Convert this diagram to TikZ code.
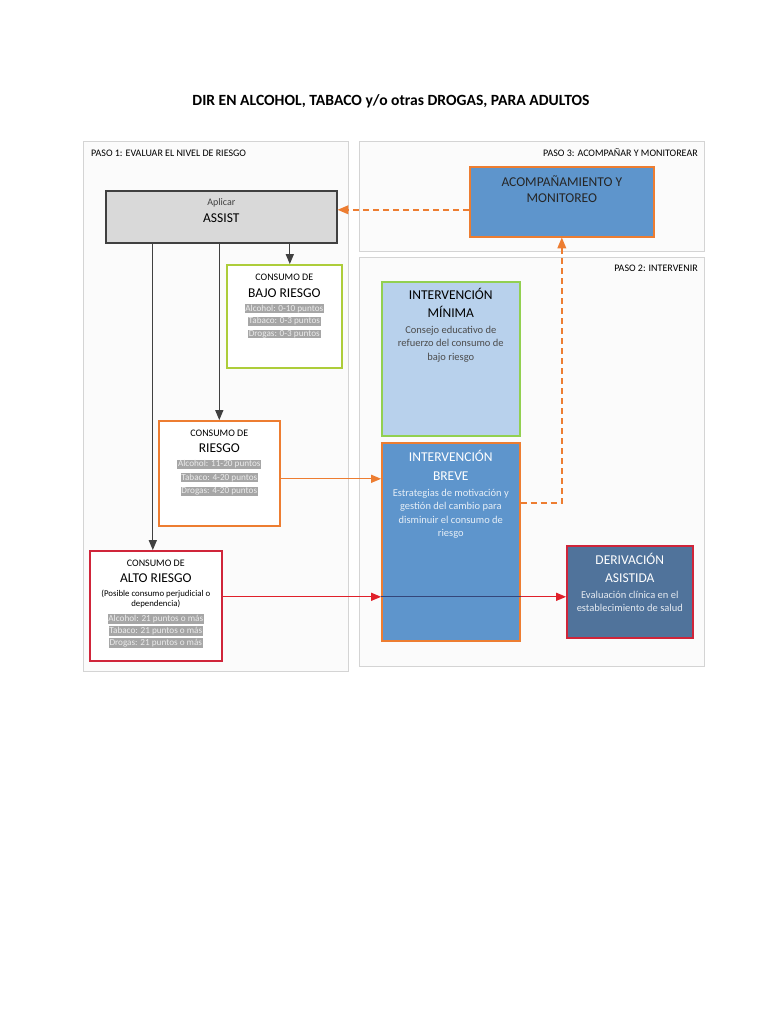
\documentclass[tikz,border=0pt]{standalone}
\usepackage{fontspec}
\setmainfont{Carlito}
\usetikzlibrary{arrows}
\usetikzlibrary{positioning}

\definecolor{panelline}{HTML}{D4D4D4}
\definecolor{panelfill}{HTML}{FBFBFB}
\definecolor{assistfill}{HTML}{D9D9D9}
\definecolor{oscuro}{HTML}{404040}
\definecolor{verde}{HTML}{ADCD3A}
\definecolor{verdeclaro}{HTML}{92D050}
\definecolor{naranja}{HTML}{ED7D31}
\definecolor{rojo}{HTML}{D0253A}
\definecolor{rojoflecha}{HTML}{E0202A}
\definecolor{azulclaro}{HTML}{B8D1EC}
\definecolor{azul}{HTML}{5E95CC}
\definecolor{azuloscuro}{HTML}{50739B}
\definecolor{azulnoche}{HTML}{34467A}
\definecolor{hlfondo}{HTML}{A6A6A6}
\definecolor{hltexto}{HTML}{ECECEC}

\newcommand{\grande}{\fontsize{13.5}{16}\selectfont}
\newcommand{\medio}{\fontsize{10}{14}\selectfont}
\newcommand{\cuerpo}[2]{\fontsize{#1}{#2}\selectfont\lineskiplimit=-20pt\relax}
\newcommand{\puntos}[1]{{\setlength{\fboxsep}{0.7pt}\colorbox{hlfondo}{\textcolor{hltexto}{#1}}}}

\begin{document}
\begin{tikzpicture}[x=1pt,y=-1pt,
  panel/.style={draw=panelline, fill=panelfill, line width=0.9pt, anchor=north west, inner sep=0pt},
  paso/.style={font=\fontsize{10}{11}\selectfont, inner sep=0pt},
  caja/.style={draw, line width=1.6pt, anchor=north west, inner sep=0pt},
  txt/.style={align=center, inner sep=0pt},
  flecha/.style={draw=oscuro, line width=1.3pt, -triangle 45},
  naranjaflecha/.style={draw=naranja, line width=1.3pt, -triangle 45},
  rojaflecha/.style={draw=rojoflecha, line width=1.3pt, -triangle 45},
  guion/.style={draw=naranja, line width=1.5pt, dash pattern=on 6pt off 4pt, -triangle 45}]

\useasboundingbox[fill=white] (0,0) rectangle (782,1011);

\node[font=\fontsize{15.6}{18}\selectfont\bfseries] (titulo) at (391,101)
  {DIR EN ALCOHOL, TABACO y/o otras DROGAS, PARA ADULTOS};

% pasos
\node[panel, minimum width=265pt, minimum height=530pt] (paso1) at (83,141) {};
\node[panel, minimum width=345pt, minimum height=110pt] (paso3) at (359,141) {};
\node[panel, minimum width=345pt, minimum height=409pt] (paso2) at (359,257) {};
\node[paso, anchor=north west] (paso1txt) at ([xshift=8pt,yshift=-8.5pt]paso1.north west)
  {PASO 1: EVALUAR EL NIVEL DE RIESGO};
\node[paso, anchor=north east] (paso3txt) at ([xshift=-7pt,yshift=-7.5pt]paso3.north east)
  {PASO 3: ACOMPAÑAR Y MONITOREAR};
\node[paso, anchor=north east] (paso2txt) at ([xshift=-7pt,yshift=-7.5pt]paso2.north east)
  {PASO 2: INTERVENIR};

% paso 1
\node[caja, draw=oscuro, fill=assistfill, minimum width=231pt, minimum height=52pt] (ASSIST) at (105,190) {};
\node[txt, below=8pt of ASSIST.north, font=\cuerpo{10}{14}] (ASSISTtxt)
  {\textcolor{oscuro}{Aplicar}\\[3.2pt]{\grande ASSIST}};

\node[caja, draw=verde, fill=white, minimum width=115pt, minimum height=103pt] (bajo) at (226,264) {};
\node[txt, below=10pt of bajo.north, font=\cuerpo{9.2}{12.5}] (bajotxt)
  {{\medio CONSUMO DE}\\[4.2pt]{\grande BAJO RIESGO}\\[1.3pt]\puntos{Alcohol: 0-10 puntos}\\
   \puntos{Tabaco: 0-3 puntos}\\\puntos{Drogas: 0-3 puntos}};

\node[caja, draw=naranja, fill=white, minimum width=121pt, minimum height=105pt] (riesgo) at (158,420) {};
\node[txt, below=9.7pt of riesgo.north, font=\cuerpo{9.2}{13.3}] (riesgotxt)
  {{\medio CONSUMO DE}\\[2.8pt]{\grande RIESGO}\\[1pt]\puntos{Alcohol: 11-20 puntos}\\
   \puntos{Tabaco: 4-20 puntos}\\\puntos{Drogas: 4-20 puntos}};

\node[caja, draw=rojo, fill=white, minimum width=132pt, minimum height=110pt] (alto) at (89,550) {};
\node[txt, below=9.5pt of alto.north, font=\cuerpo{9.2}{12}] (altotxt)
  {{\medio CONSUMO DE}\\[4.5pt]{\grande ALTO RIESGO}\\[2.2pt]{\fontsize{8.8}{12}\selectfont(Posible consumo perjudicial o}\\[-2pt]
   {\fontsize{8.8}{12}\selectfont dependencia)}\\[2.5pt]
   \puntos{Alcohol: 21 puntos o más}\\\puntos{Tabaco: 21 puntos o más}\\\puntos{Drogas: 21 puntos o más}};

% paso 3
\node[caja, draw=naranja, fill=azul, minimum width=184pt, minimum height=70pt] (acomp) at (469,166) {};
\node[txt, below=10pt of acomp.north, font=\cuerpo{13.5}{16}] (acomptxt)
  {\textcolor{black!85}{ACOMPAÑAMIENTO Y}\\\textcolor{black!85}{MONITOREO}};

% paso 2
\node[caja, draw=verdeclaro, fill=azulclaro, minimum width=138pt, minimum height=154pt] (minima) at (381,281) {};
\node[txt, below=7pt of minima.north, font=\cuerpo{10.5}{13.5}] (minimatxt)
  {{\grande INTERVENCIÓN}\\[4.8pt]{\grande MÍNIMA}\\[1.9pt]\textcolor{black!70}{Consejo educativo de}\\
   \textcolor{black!70}{refuerzo del consumo de}\\\textcolor{black!70}{bajo riesgo}};

\node[caja, draw=naranja, fill=azul, minimum width=138pt, minimum height=198pt] (breve) at (381,442) {};
\node[txt, below=8.5pt of breve.north, font=\cuerpo{10.5}{13.3}, text=white] (brevetxt)
  {{\grande INTERVENCIÓN}\\[5.7pt]{\grande BREVE}\\[2.4pt]\textcolor{white!85!azul}{Estrategias de motivación y}\\
   \textcolor{white!85!azul}{gestión del cambio para}\\\textcolor{white!85!azul}{disminuir el consumo de}\\
   \textcolor{white!85!azul}{riesgo}};

\node[caja, draw=rojo, fill=azuloscuro, minimum width=126pt, minimum height=92pt] (deriv) at (566,545) {};
\node[txt, below=8pt of deriv.north, font=\cuerpo{10.5}{13.3}, text=white] (derivtxt)
  {{\grande DERIVACIÓN}\\[5.1pt]{\grande ASISTIDA}\\[2pt]\textcolor{white!85!azuloscuro}{Evaluación clínica en el}\\
   \textcolor{white!85!azuloscuro}{establecimiento de salud}};

% conexiones
\draw[flecha] ([xshift=5.5pt]bajo.north |- ASSIST.south) -- ([xshift=5.5pt]bajo.north);
\draw[flecha] (riesgo.north |- ASSIST.south) -- (riesgo.north);
\draw[flecha] ([xshift=-3pt]alto.north |- ASSIST.south) -- ([xshift=-3pt]alto.north);

\draw[naranjaflecha] ([yshift=-5.5pt]riesgo.east) -- ([yshift=-5.5pt]riesgo.east -| breve.west);
\draw[rojaflecha] ([yshift=9pt]alto.east) -- ([yshift=9pt]alto.east -| breve.west);
\draw[draw=azulnoche, line width=1.3pt] ([yshift=9pt]alto.east -| breve.west) -- ([yshift=9pt]alto.east -| breve.east);
\draw[rojaflecha] ([yshift=9pt]alto.east -| breve.east) -- ([yshift=9pt]alto.east -| deriv.west);

\draw[guion] ([yshift=39pt]breve.east) -| (acomp.south);
\draw[guion] ([yshift=-8pt]acomp.west) -- ([yshift=-8pt]acomp.west -| ASSIST.east);

\end{tikzpicture}
\end{document}
